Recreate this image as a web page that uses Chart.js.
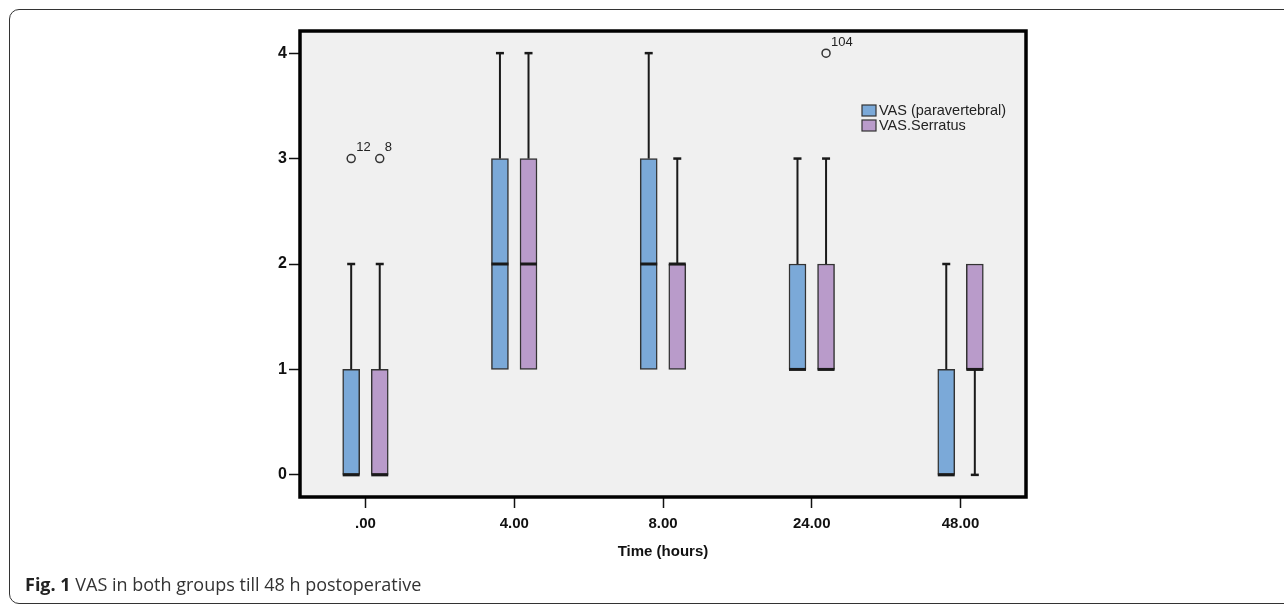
<!DOCTYPE html>
<html>
<head>
<meta charset="utf-8">
<title>VAS in both groups till 48 h postoperative</title>
<script src="https://cdn.jsdelivr.net/npm/chart.js@4.4.1/dist/chart.umd.min.js"></script>
<style>
  html, body { margin: 0; padding: 0; background: #fff; }
  #wrap { position: relative; width: 1284px; height: 605px; overflow: hidden; }
  #frame {
    position: absolute; left: 9px; top: 9px; width: 1320px; height: 595px;
    border: 1.5px solid #333; border-radius: 10px; box-sizing: border-box;
  }
  #chart { position: absolute; left: 0; top: 0; }
  #caption {
    position: absolute; left: 25px; top: 575px;
    font-family: "Open Sans", sans-serif; font-size: 18px; line-height: 18px;
    color: #333; white-space: nowrap;
  }
  #caption b { color: #222; }
</style>
</head>
<body>
<div id="wrap">
  <div id="frame"></div>
  <canvas id="chart" width="1284" height="605"></canvas>
  <div id="caption"><b>Fig. 1</b> VAS in both groups till 48 h postoperative</div>
</div>
<script>
// ===== データ =====
const timeLabels = ['.00', '4.00', '8.00', '24.00', '48.00'];
const seriesNames = ['VAS (paravertebral)', 'VAS.Serratus'];

const paraMin    = [0, 1, 1, 1, 0];
const paraQ1     = [0, 1, 1, 1, 0];
const paraMedian = [0, 2, 2, 1, 0];
const paraQ3     = [1, 3, 3, 2, 1];
const paraMax    = [2, 4, 4, 3, 2];

const serrMin    = [0, 1, 1, 1, 0];
const serrQ1     = [0, 1, 1, 1, 1];
const serrMedian = [0, 2, 2, 1, 1];
const serrQ3     = [1, 3, 2, 2, 2];
const serrMax    = [2, 4, 3, 3, 2];

// 外れ値: 系列, 時間, 値, ケース番号
const outlierSeries = [0, 1, 1];
const outlierTime   = [0, 0, 3];
const outlierValue  = [3, 3, 4];
const outlierCase   = ['12', '8', '104'];

const yTicks = [0, 1, 2, 3, 4];

// ===== 見た目 =====
const seriesColors = ['#7BA9D8', '#B99BCA'];
const boxOffset = [-0.096, 0.096];
const boxWidth = 17;
const axisFont = 'Liberation Sans, Arial, sans-serif';

const boxStats = [
    { min: paraMin, q1: paraQ1, median: paraMedian, q3: paraQ3, max: paraMax },
    { min: serrMin, q1: serrQ1, median: serrMedian, q3: serrQ3, max: serrMax }
];

const datasets = boxStats.map((s, k) => ({
    type: 'bar',
    label: seriesNames[k],
    data: timeLabels.map((_, i) => ({ x: i + boxOffset[k], y: [s.q1[i], s.q3[i]] })),
    backgroundColor: seriesColors[k],
    borderColor: '#333',
    borderWidth: 1.5,
    borderSkipped: false,
    barThickness: boxWidth,
    grouped: false
}));

datasets.push({
    type: 'scatter',
    label: 'outliers',
    data: outlierValue.map((v, j) => ({ x: outlierTime[j] + boxOffset[outlierSeries[j]], y: v })),
    pointRadius: 4,
    pointBackgroundColor: 'rgba(0,0,0,0)',
    pointBorderColor: '#333',
    pointBorderWidth: 1.5
});

// ===== 箱ひげ・枠・凡例の描画 =====
const boxPlotPlugin = {
    id: 'boxPlot',
    beforeDatasetsDraw(chart) {
        const { ctx, chartArea: a } = chart;
        ctx.save();
        ctx.fillStyle = '#F0F0F0';
        ctx.fillRect(a.left, a.top, a.right - a.left, a.bottom - a.top);
        ctx.restore();
    },
    afterDatasetsDraw(chart) {
        const { ctx, chartArea: a, scales: { x, y } } = chart;
        ctx.save();
        ctx.strokeStyle = '#1a1a1a';
        boxStats.forEach((s, k) => {
            timeLabels.forEach((_, i) => {
                const px = x.getPixelForValue(i + boxOffset[k]);
                const half = boxWidth / 2;
                // ひげ
                const segs = [];
                if (s.max[i] > s.q3[i]) segs.push([s.q3[i], s.max[i]]);
                if (s.min[i] < s.q1[i]) segs.push([s.q1[i], s.min[i]]);
                segs.forEach(([from, to]) => {
                    ctx.lineWidth = 2;
                    ctx.beginPath();
                    ctx.moveTo(px, y.getPixelForValue(from));
                    ctx.lineTo(px, y.getPixelForValue(to));
                    ctx.stroke();
                    ctx.lineWidth = 2.5;
                    ctx.beginPath();
                    ctx.moveTo(px - 4, y.getPixelForValue(to));
                    ctx.lineTo(px + 4, y.getPixelForValue(to));
                    ctx.stroke();
                });
                // 中央値
                ctx.lineWidth = 3;
                ctx.beginPath();
                ctx.moveTo(px - half, y.getPixelForValue(s.median[i]));
                ctx.lineTo(px + half, y.getPixelForValue(s.median[i]));
                ctx.stroke();
            });
        });

        // 外れ値のケース番号
        ctx.fillStyle = '#222';
        ctx.font = '13px ' + axisFont;
        ctx.textBaseline = 'middle';
        ctx.textAlign = 'left';
        outlierValue.forEach((v, j) => {
            const px = x.getPixelForValue(outlierTime[j] + boxOffset[outlierSeries[j]]);
            const py = y.getPixelForValue(v);
            ctx.fillText(outlierCase[j], px + 5, py - 11);
        });

        // 枠線
        ctx.strokeStyle = '#000';
        ctx.lineWidth = 3.5;
        ctx.strokeRect(a.left, a.top, a.right - a.left, a.bottom - a.top);

        // 凡例
        const lx = a.right - 164;
        let ly = a.top + 74;
        ctx.font = '14.5px ' + axisFont;
        chart.data.datasets.filter(d => d.type === 'bar').forEach(d => {
            ctx.fillStyle = d.backgroundColor;
            ctx.fillRect(lx, ly, 14, 11);
            ctx.lineWidth = 1.2;
            ctx.strokeStyle = '#333';
            ctx.strokeRect(lx, ly, 14, 11);
            ctx.fillStyle = '#222';
            ctx.fillText(d.label, lx + 17, ly + 6);
            ly += 15;
        });
        ctx.restore();
    }
};

new Chart(document.getElementById('chart'), {
    type: 'bar',
    data: { datasets: datasets },
    options: {
        responsive: false,
        animation: false,
        layout: { padding: { left: 0, top: 31, right: 258, bottom: 44 } },
        plugins: {
            legend: { display: false },
            tooltip: { enabled: false }
        },
        scales: {
            x: {
                type: 'linear',
                offset: false,
                min: -0.44,
                max: 4.44,
                afterBuildTicks: axis => { axis.ticks = timeLabels.map((_, i) => ({ value: i })); },
                afterFit: axis => { axis.height = 64; },
                ticks: {
                    autoSkip: false,
                    maxRotation: 0,
                    padding: 7,
                    color: '#111',
                    font: { family: axisFont, size: 15, weight: 'bold' },
                    callback: v => timeLabels[v] ?? ''
                },
                grid: { offset: false, drawOnChartArea: false, drawTicks: true, tickLength: 11, tickColor: '#111', tickWidth: 1.5 },
                border: { display: false },
                title: {
                    display: true,
                    text: 'Time (hours)',
                    color: '#111',
                    padding: { top: 0, bottom: 0 },
                    font: { family: axisFont, size: 15, weight: 'bold' }
                }
            },
            y: {
                min: -0.21,
                max: 4.21,
                afterBuildTicks: axis => { axis.ticks = yTicks.map(v => ({ value: v })); },
                afterFit: axis => { axis.width = 300; },
                ticks: {
                    padding: 2,
                    color: '#111',
                    font: { family: axisFont, size: 16, weight: 'bold' }
                },
                grid: { drawOnChartArea: false, drawTicks: true, tickLength: 11, tickColor: '#111', tickWidth: 1.5 },
                border: { display: false }
            }
        }
    },
    plugins: [boxPlotPlugin]
});
</script>
</body>
</html>
